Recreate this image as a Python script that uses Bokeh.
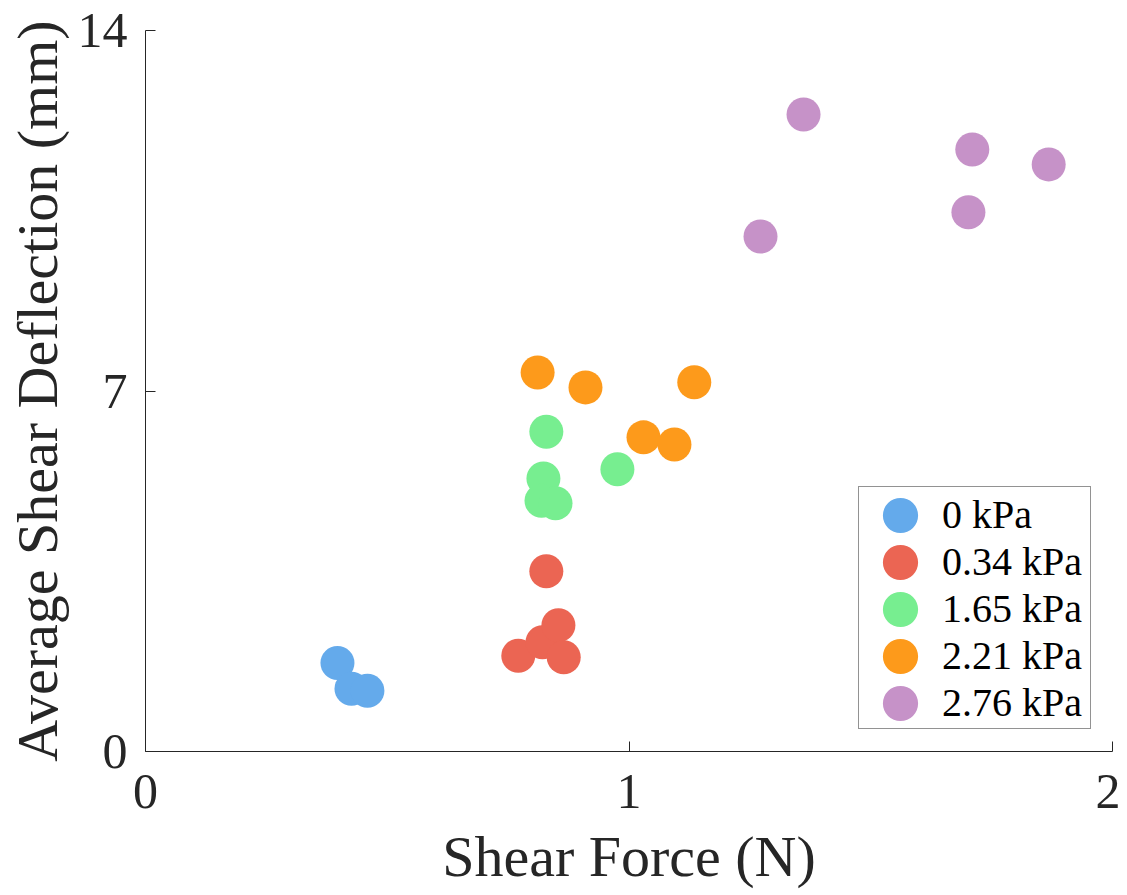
from bokeh.plotting import figure
from bokeh.models import Range1d, FixedTicker, Legend, LegendItem
from bokeh.embed import file_html
from bokeh.resources import INLINE

# ---- data ----
labels = ["0 kPa", "0.34 kPa", "1.65 kPa", "2.21 kPa", "2.76 kPa"]
colors = ["#64AAEB", "#EB6553", "#77EE90", "#FD9A1B", "#C692C8"]

force_0 = [0.397, 0.426, 0.459]
defl_0 = [1.72, 1.22, 1.18]

force_034 = [0.771, 0.821, 0.854, 0.865, 0.829]
defl_034 = [1.86, 2.12, 2.45, 1.83, 3.50]

force_165 = [0.829, 0.823, 0.819, 0.848, 0.976]
defl_165 = [6.21, 5.30, 4.87, 4.82, 5.48]

force_221 = [0.811, 0.910, 1.135, 1.030, 1.094]
defl_221 = [7.36, 7.07, 7.17, 6.10, 5.96]

force_276 = [1.361, 1.710, 1.868, 1.702, 1.272]
defl_276 = [12.37, 11.69, 11.40, 10.47, 10.00]

xs = [force_0, force_034, force_165, force_221, force_276]
ys = [defl_0, defl_034, defl_165, defl_221, defl_276]

x_ticks = [0, 1, 2]
y_ticks = [0, 7, 14]

FONT = "Liberation Serif"
AXC = "#262626"

p = figure(width=1120, height=895, output_backend="svg", toolbar_location=None,
           x_range=Range1d(0, 2), y_range=Range1d(0, 14),
           min_border_left=145, min_border_right=8, min_border_top=30,
           min_border_bottom=144)
p.outline_line_color = None
p.grid.visible = False
p.background_fill_color = "white"
p.border_fill_color = "white"

renderers = []
for x, y, c in zip(xs, ys, colors):
    r = p.ellipse(x=x, y=y, width=34, height=34, width_units="screen",
                  height_units="screen", fill_color=c, line_color=None)
    renderers.append(r)

for ax in (p.xaxis[0], p.yaxis[0]):
    ax.axis_line_color = AXC
    ax.axis_line_width = 1
    ax.major_tick_line_color = AXC
    ax.major_tick_in = 10
    ax.major_tick_out = 0
    ax.minor_tick_line_color = None
    ax.major_label_text_font = FONT
    ax.major_label_text_font_size = "50px"
    ax.major_label_text_color = AXC
    ax.axis_label_text_font = FONT
    ax.axis_label_text_font_size = "58px"
    ax.axis_label_text_font_style = "normal"
    ax.axis_label_text_color = AXC

p.xaxis[0].ticker = FixedTicker(ticks=x_ticks)
p.yaxis[0].ticker = FixedTicker(ticks=y_ticks)
p.xaxis[0].axis_label = "Shear Force (N)"
p.yaxis[0].axis_label = "Average Shear Deflection (mm)"
p.xaxis[0].major_label_standoff = 23
p.yaxis[0].major_label_standoff = 18
p.xaxis[0].axis_label_standoff = 13
p.yaxis[0].axis_label_standoff = 5

legend = Legend(
    items=[LegendItem(label=l, renderers=[r]) for l, r in zip(labels, renderers)],
    location=(713, 22),
    glyph_width=44, glyph_height=44,
    padding=dict(left=19, right=8, top=4, bottom=2),
    spacing=0, label_standoff=20,
    label_text_font=FONT, label_text_font_size="40px", label_text_color="black",
    border_line_color=AXC, border_line_width=1,
    background_fill_color="white", background_fill_alpha=1.0,
    margin=0,
)
p.add_layout(legend)

open("out.html", "w").write(file_html(p, INLINE))
